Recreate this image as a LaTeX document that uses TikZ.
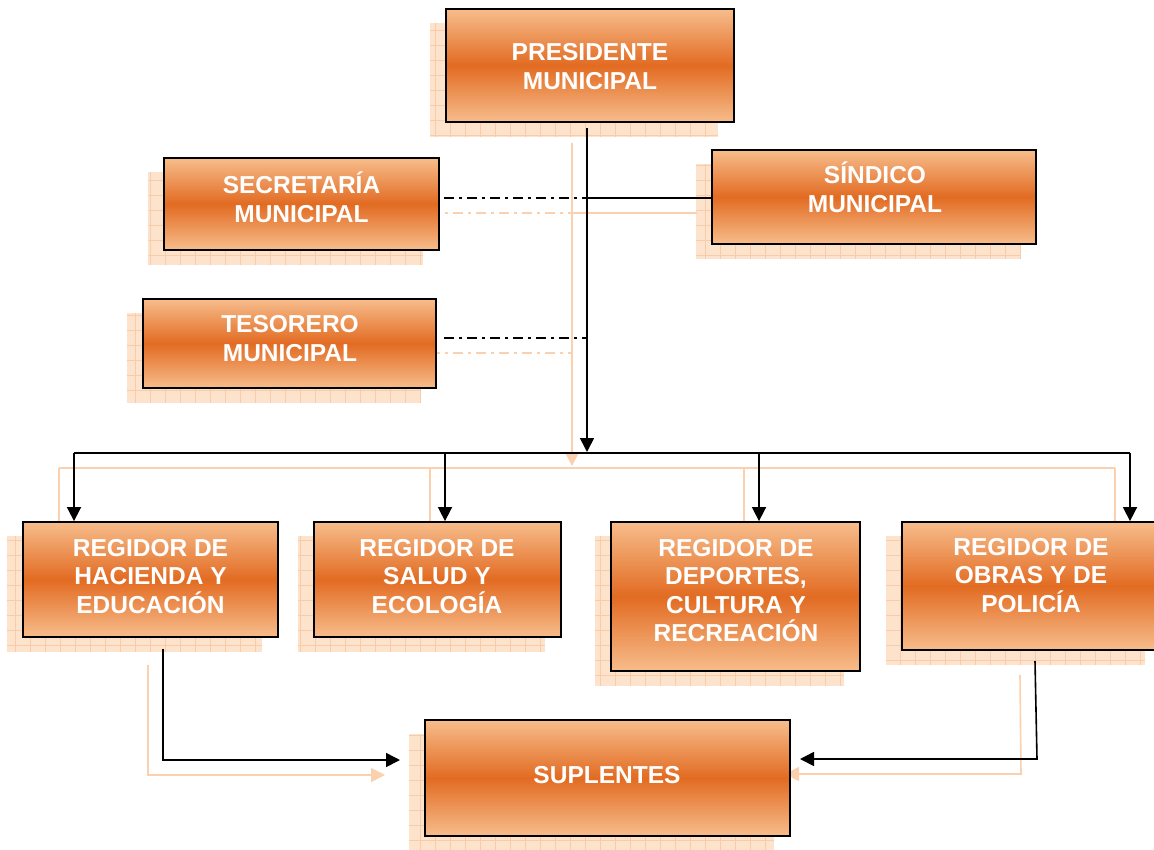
\documentclass[tikz,border=0pt]{standalone}
\usepackage{fontspec}
\setmainfont{Liberation Sans}
\usetikzlibrary{arrows.meta,calc}
\definecolor{olight}{HTML}{F7BD8C}
\definecolor{odark}{HTML}{E26B22}
\definecolor{shfill}{HTML}{FDE2CC}
\definecolor{shgrid}{HTML}{F8CCA8}
\definecolor{shline}{HTML}{FAD0AE}
\tikzset{
  box/.style={draw=black, line width=1.8pt, top color=olight, bottom color=olight, middle color=odark, inner sep=0pt},
  lbl/.style={text=white, font=\fontsize{24.5}{28.5}\selectfont\bfseries, inner sep=0pt, anchor=base},
  conn/.style={line width=1.6pt, draw=black},
  arr/.style={-{Triangle[length=14pt,width=14pt]}},
  sharr/.style={-{Triangle[length=14pt,width=14pt,fill=shline]}},
  dd/.style={dash pattern=on 10pt off 5pt on 3pt off 5pt},
  shconn/.style={line width=1.6pt, draw=shline},
  shbox/.style={fill=shfill},
  shgridline/.style={draw=shgrid, line width=0.6pt},
}
\newcommand\mkshadow[4]{%
  \fill[shbox] (#1-16,#2+14) rectangle (#3-16,#4+15);
  \draw[shgridline, step=15pt] (#1-16,#2+14) grid (#3-16,#4+15);}
\begin{document}
\begin{tikzpicture}[x=1pt,y=-1pt]
\useasboundingbox (0,0) rectangle (1154,849);
% shadows of boxes
\mkshadow{446}{9}{734}{122}
\mkshadow{164}{158}{439}{250}
\mkshadow{712}{150}{1036}{244}
\mkshadow{143}{299}{436}{388}
\mkshadow{23}{522}{278}{637}
\mkshadow{314}{522}{561}{637}
\mkshadow{611}{522}{860}{671}
\mkshadow{902}{522}{1161}{650}
\mkshadow{425}{720}{790}{836}
% coordinates
\coordinate (ptop) at (587,128);
\coordinate (jarr) at (587,452);
\coordinate (sj) at (587,198);
\coordinate (tj) at (587,338);
\coordinate (secr) at (444,198);
\coordinate (tesr) at (444,338);
\coordinate (h1) at (74,453);
\coordinate (h2) at (445,453);
\coordinate (h3) at (759,453);
\coordinate (h4) at (1130,453);
\coordinate (r1b) at (163,649);
\coordinate (r1c) at (163,760);
\coordinate (r1e) at (400,760);
\coordinate (r4b) at (1035,661);
\coordinate (r4c) at (1037,759);
\coordinate (r4e) at (800,759);
% shadow coordinates
\coordinate (sptop) at (572,143);
\coordinate (ssj) at (572,213);
\coordinate (stj) at (572,353);
\coordinate (ssecr) at (430,213);
\coordinate (stesr) at (430,353);
\coordinate (ssin) at (697,213);
\coordinate (sh1) at (59,468);
\coordinate (sh2) at (430,468);
\coordinate (sh3) at (744,468);
\coordinate (sh4) at (1115,468);
\coordinate (sr1b) at (148,665);
\coordinate (sr1c) at (148,775);
\coordinate (sr1e) at (385,775);
\coordinate (sr4b) at (1020,675);
\coordinate (sr4c) at (1021,774);
\coordinate (sr4e) at (785,774);
% shadow connectors
\draw[shconn,sharr] (sptop) -- (572,466);
\draw[shconn] (sh1) -- (sh4);
\draw[shconn,sharr] (sh1) -- (59,537);
\draw[shconn,sharr] (sh2) -- (430,537);
\draw[shconn,sharr] (sh3) -- (744,537);
\draw[shconn,sharr] (sh4) -- (1115,537);
\draw[shconn,dd] (ssecr) -- (ssj);
\draw[shconn] (ssj) -- (ssin);
\draw[shconn,dd] (stesr) -- (stj);
\draw[shconn,sharr] (sr1b) -- (sr1c) -- (sr1e);
\draw[shconn,sharr] (sr4b) -- (sr4c) -- (sr4e);
% boxes
\node[box, minimum width=288pt, minimum height=113pt] (p) at (590,65.5) {};
\node[box, minimum width=275pt, minimum height=92pt] (sec) at (301.5,204) {};
\node[box, minimum width=324pt, minimum height=94pt] (sin) at (874,197) {};
\node[box, minimum width=293pt, minimum height=89pt] (tes) at (289.5,343.5) {};
\node[box, minimum width=255pt, minimum height=115pt] (r1) at (150.5,579.5) {};
\node[box, minimum width=247pt, minimum height=115pt] (r2) at (437.5,579.5) {};
\node[box, minimum width=249pt, minimum height=149pt] (r3) at (735.5,596.5) {};
\node[box, minimum width=259pt, minimum height=128pt] (r4) at (1031.5,586) {};
\node[box, minimum width=365pt, minimum height=116pt] (sup) at (607.5,778) {};
% connectors
\draw[conn,arr] (ptop) -- (jarr);
\draw[conn] (h1) -- (h4);
\draw[conn,arr] (h1) -- (h1 |- r1.north);
\draw[conn,arr] (h2) -- (h2 |- r2.north);
\draw[conn,arr] (h3) -- (h3 |- r3.north);
\draw[conn,arr] (h4) -- (h4 |- r4.north);
\draw[conn,dd] (secr) -- (sj);
\draw[conn] (sj) -- (sj -| sin.west);
\draw[conn,dd] (tesr) -- (tj);
\draw[conn,arr] (r1b) -- (r1c) -- (r1e);
\draw[conn,arr] (r4b) -- (r4c) -- (r4e);
% labels
\node[lbl] (pl1) at (590,60) {PRESIDENTE};
\node[lbl] (pl2) at (590,89) {MUNICIPAL};
\node[lbl] (sl1) at (301.5,193) {SECRETARÍA};
\node[lbl] (sl2) at (301.5,222) {MUNICIPAL};
\node[lbl] (nl1) at (875,183) {SÍNDICO};
\node[lbl] (nl2) at (875,212) {MUNICIPAL};
\node[lbl] (tl1) at (290,332) {TESORERO};
\node[lbl] (tl2) at (290,361) {MUNICIPAL};
\node[lbl] (a1) at (150.5,556) {REGIDOR DE};
\node[lbl] (a2) at (150.5,584.5) {HACIENDA Y};
\node[lbl] (a3) at (150.5,613) {EDUCACIÓN};
\node[lbl] (b1) at (437,556) {REGIDOR DE};
\node[lbl] (b2) at (437,584.5) {SALUD Y};
\node[lbl] (b3) at (437,613) {ECOLOGÍA};
\node[lbl] (c1) at (736,556) {REGIDOR DE};
\node[lbl] (c2) at (736,584.5) {DEPORTES,};
\node[lbl] (c3) at (736,613) {CULTURA Y};
\node[lbl] (c4) at (736,641.5) {RECREACIÓN};
\node[lbl] (d1) at (1031,555) {REGIDOR DE};
\node[lbl] (d2) at (1031,583.5) {OBRAS Y DE};
\node[lbl] (d3) at (1031,612) {POLICÍA};
\node[lbl] (s1) at (607,783) {SUPLENTES};
\end{tikzpicture}
\end{document}
